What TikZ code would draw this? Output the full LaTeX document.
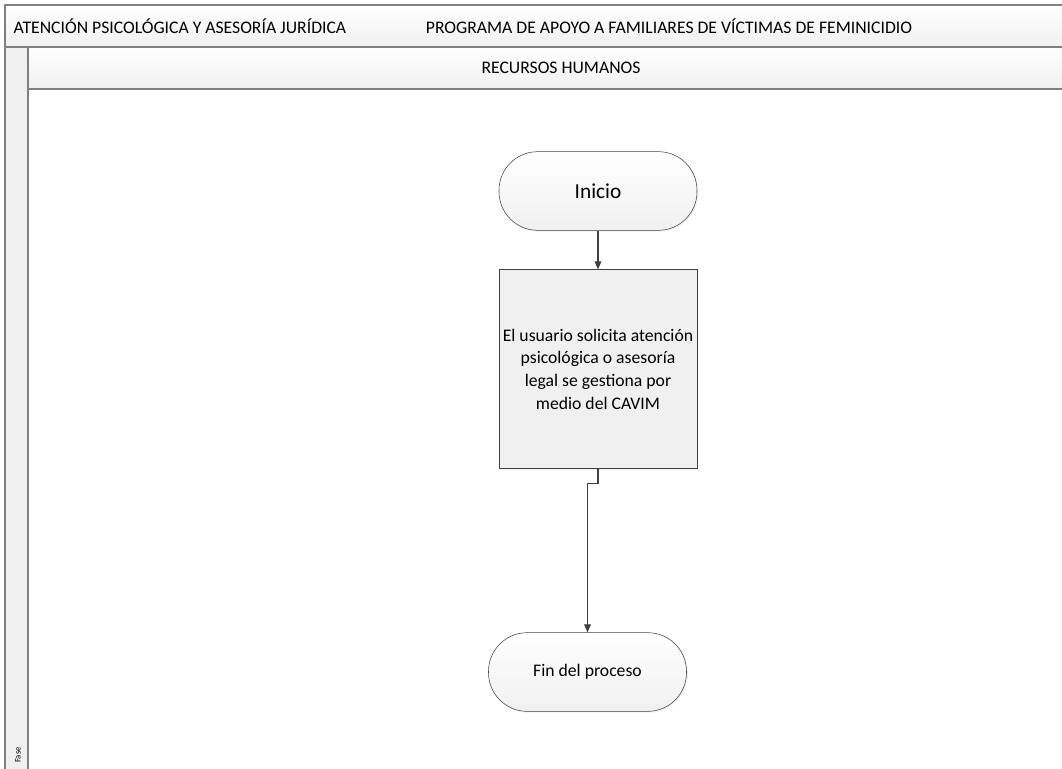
\documentclass[tikz,border=0pt]{standalone}
\usepackage{fontspec}
\setmainfont{Carlito}
\usetikzlibrary{positioning, arrows.meta, shadows}

\definecolor{marco}{HTML}{808080}
\definecolor{borde}{HTML}{404040}
\definecolor{relleno}{HTML}{F0F0F0}

\begin{document}
\begin{tikzpicture}[x=0.75pt, y=-0.75pt,
  texto/.style={font=\fontsize{13.25}{16}\selectfont},
  terminal/.style={draw=borde, rounded corners=29pt, top color=white, bottom color=relleno,
    minimum width=148.5pt, minimum height=59pt, drop shadow={opacity=0.12, shadow xshift=1pt, shadow yshift=-1pt}},
  proceso/.style={draw=borde, fill=relleno, minimum width=148.5pt, minimum height=149pt, inner sep=1pt,
    align=center, font=\fontsize{13.25}{17}\selectfont, drop shadow={opacity=0.12, shadow xshift=1pt, shadow yshift=-1pt}},
  flecha/.style={draw=borde, thick, -{Triangle[length=6pt,width=5pt]}},
  carril/.style={draw=marco, thick, top color=white, bottom color=relleno}]
\useasboundingbox (0,0) rectangle (1062,768);

% swimlane frame
\draw[carril] (5,5) rectangle (1066,47);
\draw[carril] (28,47) rectangle (1066,89);
\draw[draw=marco, thick, fill=relleno] (5,47) rectangle (28,772);
\draw[draw=marco, thick] (28,89) -- (28,772);
\node[texto, anchor=west] (proceso) at (9,26) {ATENCIÓN PSICOLÓGICA Y ASESORÍA JURÍDICA};
\node[texto] (programa) at (669,26) {PROGRAMA DE APOYO A FAMILIARES DE VÍCTIMAS DE FEMINICIDIO};
\node[texto] (area) at (561,68) {RECURSOS HUMANOS};
\node[rotate=90, font=\fontsize{6.5}{7}\selectfont] (fase) at (18,755) {Fase};

% flow
\node[terminal, font=\fontsize{16}{18}\selectfont] (inicio) at (598,191) {Inicio};
\node[proceso] (solicitud) at (598,369) {El usuario solicita atención\\psicológica o asesoría\\legal se gestiona por\\medio del CAVIM};
\node[terminal, texto] (fin) at (587.5,672) {Fin del proceso};

\draw[flecha] (inicio) -- (solicitud);
\draw[flecha] (solicitud.south) -- ++(0,15) -| (fin.north);
\end{tikzpicture}
\end{document}
